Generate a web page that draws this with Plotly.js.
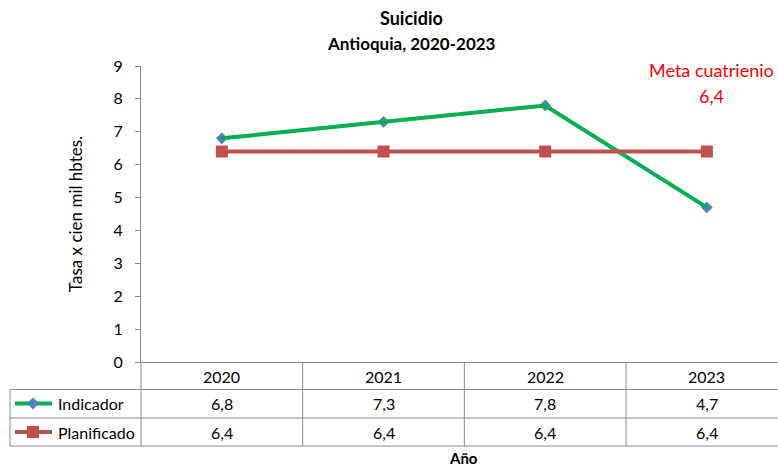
<!DOCTYPE html>
<html>
<head>
<meta charset="utf-8">
<script src="https://cdn.plot.ly/plotly-3.0.1.min.js"></script>
<style>
  html, body { margin: 0; padding: 0; background: #fff; }
  #chart { width: 778px; height: 469px; }
</style>
</head>
<body>
<div id="chart"></div>
<script>
// Suicide rate per 100,000 inhabitants, Antioquia 2020-2023
const years = ['2020', '2021', '2022', '2023'];
const indicador = [6.8, 7.3, 7.8, 4.7];
const planificado = [6.4, 6.4, 6.4, 6.4];
const metaCuatrienio = 6.4;
const yTicks = [0, 1, 2, 3, 4, 5, 6, 7, 8, 9];

const FONT = 'Lato, "Open Sans", sans-serif';
const GRID = '#8c8c8c';
const GREEN = '#00B050';
const BLUE = '#4F81BD';
const RED = '#C0504D';

// page geometry (px)
const W = 778, H = 469;
const L = 141, T = 66, B = 362;           // plot area left / top / bottom
const plotH = B - T, plotW = W - L;
const rowLines = [389.5, 418, 446];        // table row borders
const rowMid = [376, 403.5, 432];          // header, Indicador, Planificado
const tableLeft = 10;

const py = p => (B - p) / plotH;           // pixel y -> paper y
const pxp = p => (p - L) / plotW;          // pixel x -> paper x

const fmt = v => v.toFixed(1).replace('.', ',');

const traces = [
  // markers drawn beneath the line
  { x: years, y: indicador, type: 'scatter', mode: 'markers', name: 'Indicador',
    marker: { symbol: 'diamond', size: 9, color: BLUE }, hoverinfo: 'skip', showlegend: false },
  { x: years, y: indicador, type: 'scatter', mode: 'lines', name: 'Indicador',
    line: { color: GREEN, width: 4 }, showlegend: false },
  { x: years, y: planificado, type: 'scatter', mode: 'lines+markers', name: 'Planificado',
    line: { color: RED, width: 4 },
    marker: { symbol: 'square', size: 12, color: RED }, showlegend: false }
];

const shapes = [];
const annotations = [];

// y axis continues through the data table
shapes.push({ type: 'line', xref: 'paper', yref: 'paper', x0: 0, x1: 0, y0: 0, y1: py(rowLines[2]),
  line: { color: GRID, width: 1 } });
// vertical dividers between years
for (let i = 0; i < years.length - 1; i++) {
  shapes.push({ type: 'line', xref: 'x', yref: 'paper', x0: i + 0.5, x1: i + 0.5, y0: 0, y1: py(rowLines[2]),
    line: { color: GRID, width: 1 } });
}
// horizontal row borders
rowLines.forEach(r => {
  shapes.push({ type: 'line', xref: 'paper', yref: 'paper', x0: pxp(tableLeft), x1: 1, y0: py(r), y1: py(r),
    line: { color: GRID, width: 1 } });
});
// left border of series-name cells
shapes.push({ type: 'line', xref: 'paper', yref: 'paper', x0: pxp(tableLeft), x1: pxp(tableLeft),
  y0: py(rowLines[0]), y1: py(rowLines[2]), line: { color: GRID, width: 1 } });

// legend keys inside the table
function key(rowY, color, markerColor, kind) {
  shapes.push({ type: 'line', xref: 'paper', yref: 'paper', x0: pxp(15), x1: pxp(52), y0: py(rowY), y1: py(rowY),
    line: { color: color, width: 4 } });
  const cx = 33, cy = rowY;
  const pts = kind === 'diamond'
    ? [[cx - 6, cy], [cx, cy - 6], [cx + 6, cy], [cx, cy + 6]]
    : [[cx - 6, cy - 6], [cx + 6, cy - 6], [cx + 6, cy + 6], [cx - 6, cy + 6]];
  const path = pts.map((p, i) => (i ? 'L ' : 'M ') + pxp(p[0]) + ' ' + py(p[1])).join(' ') + ' Z';
  shapes.push({ type: 'path', xref: 'paper', yref: 'paper', path: path,
    fillcolor: markerColor, line: { width: 0 } });
}
key(rowMid[1], GREEN, BLUE, 'diamond');
key(rowMid[2], RED, RED, 'square');

const cellFont = { family: FONT, size: 16, color: '#000' };
function note(x, y, text, font, anchor) {
  annotations.push({ xref: 'paper', yref: 'paper', x: pxp(x), y: py(y), xanchor: anchor || 'center',
    yanchor: 'middle', text: text, showarrow: false, font: font });
}
note(56, rowMid[1], 'Indicador', cellFont, 'left');
note(56, rowMid[2], 'Planificado', cellFont, 'left');

years.forEach((yr, i) => {
  [[yr, rowMid[0]], [fmt(indicador[i]), rowMid[1]], [fmt(planificado[i]), rowMid[2]]].forEach(([t, r]) => {
    annotations.push({ xref: 'x', yref: 'paper', x: i, y: py(r), xanchor: 'center', yanchor: 'middle',
      text: t, showarrow: false, font: cellFont });
  });
});

// title lines
note(411, 18, '<b>Suicidio</b>', { family: FONT, size: 18, color: '#000' });
note(411, 44, '<b>Antioquia, 2020-2023</b>', { family: FONT, size: 17, color: '#000' });

// goal note
const redFont = { family: FONT, size: 18, color: '#FF0000' };
note(711, 70, 'Meta cuatrienio', redFont);
note(711, 96, fmt(metaCuatrienio), redFont);

// x axis title
note(463, 458, '<b>Año</b>', { family: FONT, size: 15, color: '#000' });

const layout = {
  width: W, height: H,
  margin: { l: L, r: 0, t: T, b: H - B, pad: 0 },
  paper_bgcolor: '#fff', plot_bgcolor: '#fff',
  showlegend: false,
  xaxis: {
    type: 'category', range: [-0.5, 3.44], showticklabels: false, ticks: '',
    showgrid: false, zeroline: false, showline: true, linecolor: GRID, linewidth: 1,
    fixedrange: true
  },
  yaxis: {
    range: [0, 9], tickvals: yTicks, ticktext: yTicks.map(String),
    ticks: 'outside', ticklen: 5, tickcolor: GRID, ticklabelstandoff: 9,
    showgrid: false, zeroline: false, showline: true, linecolor: GRID, linewidth: 1,
    tickfont: { family: FONT, size: 16, color: '#000' },
    title: { text: 'Tasa x cien mil hbtes.', font: { family: FONT, size: 17, color: '#000' }, standoff: 26 },
    fixedrange: true
  },
  shapes: shapes,
  annotations: annotations
};

Plotly.newPlot('chart', traces, layout, { displayModeBar: false, staticPlot: true });
</script>
</body>
</html>
